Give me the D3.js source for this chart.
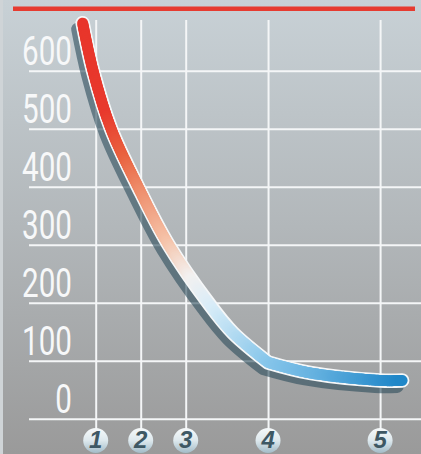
<!DOCTYPE html>
<html>
<head>
<meta charset="utf-8">
<script src="https://cdn.jsdelivr.net/npm/d3@7"></script>
<style>
  html, body { margin: 0; padding: 0; background: #cfd4d7; }
  svg { display: block; }
</style>
</head>
<body>
<div id="chart"></div>
<script>
// values
const yTicks = [0, 100, 200, 300, 400, 500, 600]
const xTickValues = [1, 2, 3, 4.83, 7.32]
const xTickLabels = ["1", "2", "3", "4", "5"]
// falling part of the curve, down to the knee
const fallX = [0.71, 0.94, 1.34, 1.94, 2.61, 3.50, 4.05, 4.83]
const fallY = [682, 600, 500, 400, 301, 200, 148, 97]
// flat tail after the knee
const tailX = [4.83, 5.76, 7.32, 7.81]
const tailY = [97, 79, 66, 66]
const limitValue = 707

const width = 421
const height = 454

const x = d3.scaleLinear().domain([0, 8]).range([50.7, 410.7])
const y = d3.scaleLinear().domain([0, 600]).range([418.7, 70.7])

const svg = d3.select("#chart")
  .append("svg")
  .attr("width", width)
  .attr("height", height)

const defs = svg.append("defs")

// background fade, light blue-grey to grey
const bg = defs.append("linearGradient")
  .attr("id", "bg")
  .attr("x1", 0).attr("y1", 0).attr("x2", 0).attr("y2", 1)
bg.append("stop").attr("offset", 0).attr("stop-color", "#c8d1d6")
bg.append("stop").attr("offset", 0.5).attr("stop-color", "#b2b7ba")
bg.append("stop").attr("offset", 1).attr("stop-color", "#9a9a9a")

const bubble = defs.append("linearGradient")
  .attr("id", "bubble")
  .attr("x1", 0).attr("y1", 0).attr("x2", 0).attr("y2", 1)
bubble.append("stop").attr("offset", 0).attr("stop-color", "#f6f9fa")
bubble.append("stop").attr("offset", 0.5).attr("stop-color", "#dde8ed")
bubble.append("stop").attr("offset", 1).attr("stop-color", "#a3bcc8")

svg.append("rect")
  .attr("x", 3)
  .attr("y", 0)
  .attr("width", width - 3)
  .attr("height", height)
  .attr("fill", "url(#bg)")

// limit line on top
svg.append("line")
  .attr("x1", 13)
  .attr("x2", 415)
  .attr("y1", y(limitValue))
  .attr("y2", y(limitValue))
  .attr("stroke", "#e63b30")
  .attr("stroke-width", 4.5)

// horizontal grid
svg.append("g")
  .attr("class", "hgrid")
  .attr("transform", `translate(${width},0)`)
  .call(d3.axisLeft(y).tickValues(yTicks).tickSize(width - 29).tickFormat(""))

// vertical grid
svg.append("g")
  .attr("class", "vgrid")
  .attr("transform", "translate(0,20)")
  .call(d3.axisTop(x).tickValues(xTickValues).tickSize(-410).tickFormat(""))

svg.selectAll(".hgrid .domain, .vgrid .domain").remove()
svg.selectAll(".hgrid line, .vgrid line")
  .attr("stroke", "#f4f6f7")
  .attr("stroke-width", 2)

// y labels, tall and narrow
svg.selectAll(".ylab")
  .data(yTicks)
  .enter().append("text")
  .attr("class", "ylab")
  .attr("transform", d => `translate(72,${y(d) - 6}) scale(0.74,1)`)
  .attr("text-anchor", "end")
  .attr("font-family", "Roboto, sans-serif")
  .attr("font-size", 40)
  .attr("fill", "#f7f8f9")
  .text(d => d)

// x labels in little bubbles
const xl = svg.selectAll(".xlab")
  .data(xTickValues)
  .enter().append("g")
  .attr("class", "xlab")
  .attr("transform", d => `translate(${x(d)},440.5)`)

xl.append("circle")
  .attr("r", 12.5)
  .attr("fill", "url(#bubble)")

xl.append("text")
  .attr("y", 7.5)
  .attr("text-anchor", "middle")
  .attr("font-family", "Liberation Sans, Arial, sans-serif")
  .attr("font-weight", "bold")
  .attr("font-style", "italic")
  .attr("font-size", 24)
  .attr("fill", "#3e5864")
  .text((d, i) => xTickLabels[i])

// the curve: smooth fall, sharp knee, smooth tail
const line = d3.line()
  .x(d => x(d[0]))
  .y(d => y(d[1]))
  .curve(d3.curveCatmullRom.alpha(0.5))

const fallPts = d3.zip(fallX, fallY)
const tailPts = d3.zip(tailX, tailY)
const pathD = line(fallPts) + line(tailPts).replace(/^M[^A-Za-z]*/, "")

svg.append("path")
  .attr("d", pathD)
  .attr("transform", "translate(-5,6)")
  .attr("fill", "none")
  .attr("stroke", "rgba(40,72,88,0.58)")
  .attr("stroke-width", 13)
  .attr("stroke-linecap", "round")
  .attr("stroke-linejoin", "round")

const outline = svg.append("path")
  .attr("d", pathD)
  .attr("fill", "none")
  .attr("stroke", "#f5f7f8")
  .attr("stroke-width", 14.5)
  .attr("stroke-linecap", "round")
  .attr("stroke-linejoin", "round")

// colour running along the length of the curve
const color = d3.scaleLinear()
  .domain([0, 0.18, 0.27, 0.34, 0.45, 0.53, 0.6, 0.67, 0.75, 0.84, 1])
  .range(["#e8352b", "#e8392d", "#e9623f", "#ee8c6a", "#f5c3a9", "#f3f1f0",
          "#d8ecf8", "#b2daf1", "#86c5ea", "#66b2e0", "#1f86c8"])

const node = outline.node()
const total = node.getTotalLength()
const steps = 260
const segs = []
for (let i = 0; i < steps; i++) {
  const a = node.getPointAtLength(total * i / steps)
  const b = node.getPointAtLength(total * (i + 1) / steps)
  segs.push({ a, b, t: (i + 0.5) / steps })
}

svg.append("g")
  .selectAll("line")
  .data(segs)
  .enter().append("line")
  .attr("x1", d => d.a.x)
  .attr("y1", d => d.a.y)
  .attr("x2", d => d.b.x)
  .attr("y2", d => d.b.y)
  .attr("stroke", d => color(d.t))
  .attr("stroke-width", 11)
  .attr("stroke-linecap", "round")
</script>
</body>
</html>
